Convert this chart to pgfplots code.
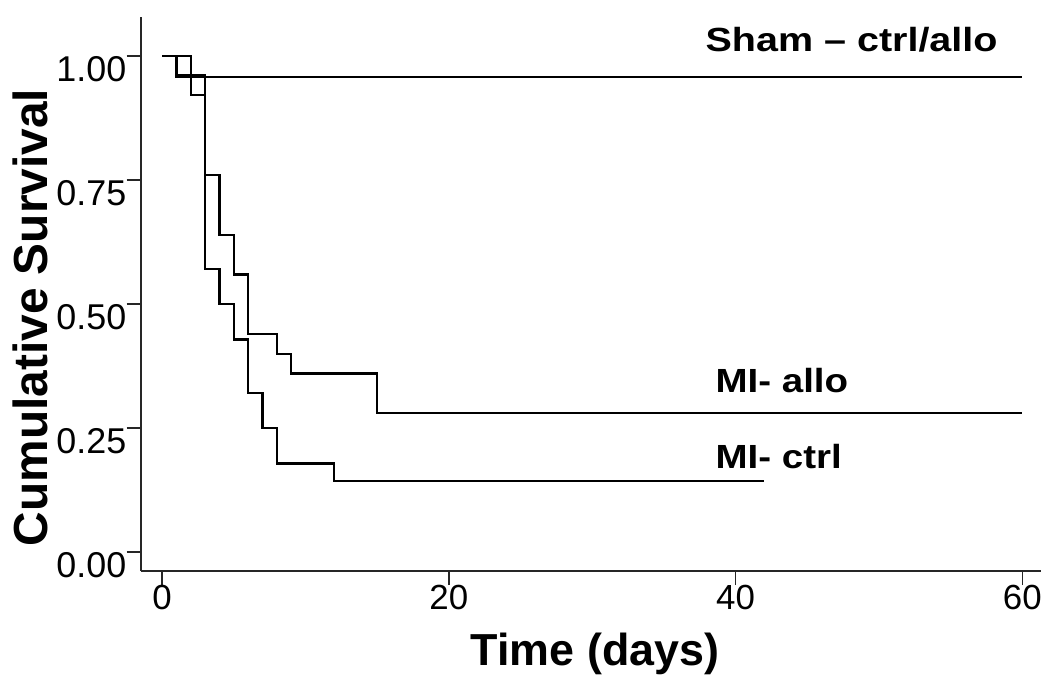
\documentclass[border=0pt]{standalone}
\usepackage{fontspec}
\setmainfont{Liberation Sans}
\usepackage{graphicx}
\usepackage{pgfplots}
\pgfplotsset{compat=1.18}
\begin{document}
\begin{tikzpicture}
\useasboundingbox (-70.35bp,-55bp) rectangle (454.65bp,285.5bp);
\begin{axis}[
  at={(0,0)}, anchor=south west,
  scale only axis, width=450.15bp, height=277bp,
  xmin=-1.49, xmax=61.3, ymin=-0.038, ymax=1.079,
  axis lines*=left,
  axis line style={line width=0.9bp, black!85},
  tick align=outside,
  major tick length=7bp,
  tick style={line width=0.8bp, black!85},
  xtick={0,20,40,60},
  ytick={0,0.25,0.5,0.75,1},
  /pgf/number format/assume math mode=true,
  yticklabel style={/pgf/number format/fixed, /pgf/number format/fixed zerofill, /pgf/number format/precision=2,
     font=\fontsize{18}{20}\selectfont, anchor=north east, inner sep=0pt},
  xticklabel style={font=\fontsize{17.5}{20}\selectfont, anchor=north, inner sep=0pt},
  xlabel={Time (days)},
  ylabel={Cumulative Survival},
  xlabel style={font=\fontsize{22.5}{26}\selectfont\bfseries, at={(axis description cs:0.5046,-0.1697)}, anchor=base},
  ylabel style={font=\fontsize{24}{26}\selectfont\bfseries, at={(axis description cs:-0.1222,0.4576)}, anchor=center, rotate=0},
  clip=false,
]
\addplot[const plot, line width=1.2bp, black] coordinates {(0,1) (1,0.958) (60,0.958)};
\addplot[const plot, line width=1.2bp, black] coordinates {(0,1) (2,0.922) (3,0.76) (4,0.64) (5,0.56) (6,0.44) (8,0.40) (9,0.36) (15,0.28) (60,0.28)};
\addplot[const plot, line width=1.2bp, black] coordinates {(0,1) (1,0.962) (3,0.571) (4,0.50) (5,0.429) (6,0.321) (7,0.25) (8,0.179) (12,0.143) (42,0.143)};
\node[anchor=base west, inner sep=0pt] at (axis cs:37.88,1.009) {\fontsize{16.8}{20}\selectfont\bfseries\scalebox{1.18}[1]{Sham – ctrl/allo}};
\node[anchor=base west, inner sep=0pt] at (axis cs:38.58,0.3226) {\fontsize{16.8}{20}\selectfont\bfseries\scalebox{1.15}[1]{MI- allo}};
\node[anchor=base west, inner sep=0pt] at (axis cs:38.58,0.1694) {\fontsize{16.8}{20}\selectfont\bfseries\scalebox{1.15}[1]{MI- ctrl}};
\end{axis}
\end{tikzpicture}
\end{document}
